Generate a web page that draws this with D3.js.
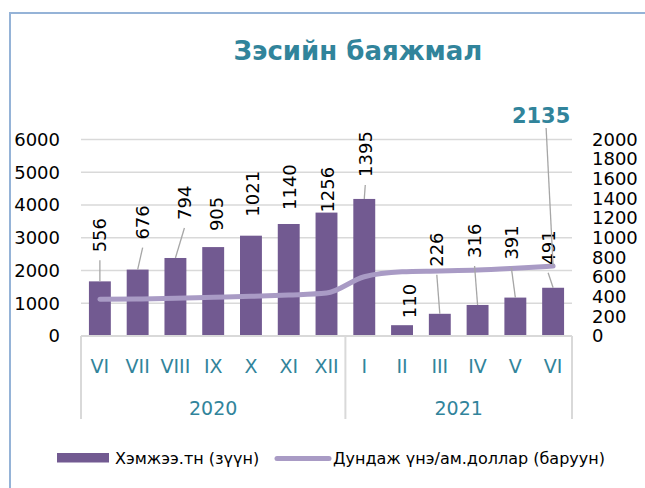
<!DOCTYPE html>
<html>
<head>
<meta charset="utf-8">
<script src="https://cdn.jsdelivr.net/npm/d3@7"></script>
<style>
    body { margin: 0; background: #fff; }
    svg { display: block; font-family: "DejaVu Sans", sans-serif; }
</style>
</head>
<body>
<div id="chart"></div>
<script>
// Data
const months = ['VI', 'VII', 'VIII', 'IX', 'X', 'XI', 'XII', 'I', 'II', 'III', 'IV', 'V', 'VI'];
const yearLabels = ['2020', '2021'];
const yearOfMonth = [0, 0, 0, 0, 0, 0, 0, 1, 1, 1, 1, 1, 1];
const volume = [556, 676, 794, 905, 1021, 1140, 1256, 1395, 110, 226, 316, 391, 491];
const price = [1120, 1130, 1150, 1180, 1210, 1250, 1310, 1810, 1960, 1985, 2015, 2070, 2135];
const leftTicks = [0, 1000, 2000, 3000, 4000, 5000, 6000];
const rightTicks = [0, 200, 400, 600, 800, 1000, 1200, 1400, 1600, 1800, 2000];
const legendLabels = ['Хэмжээ.тн (зүүн)', 'Дундаж үнэ/ам.доллар (баруун)'];
const chartTitle = 'Зэсийн баяжмал';

// Hand-placed label nudges (dx, gap above bar), like the original workbook
const labelNudge = [[0, 29], [5, 30], [9, 38], [3, 16], [2, 19], [1, 14], [1, 0], [1, 22],
                    [7, 7], [-3, 47], [-3, 47], [-4, 38], [-5, 23]];

const colors = {
    bar: '#725a91',
    line: '#a99bc5',
    teal: '#31849b',
    grid: '#d9d9d9',
    leader: '#a6a6a6',
    frame: '#95b3d7'
};

const width = 645, height = 488;
const plot = { left: 81, right: 572, top: 139.5, bottom: 336 };

const svg = d3.select('#chart')
    .append('svg')
    .attr('width', width)
    .attr('height', height);

// outer frame (cut off on right / bottom in the source)
svg.append('rect')
    .attr('x', 10).attr('y', 13)
    .attr('width', 700).attr('height', 600)
    .attr('fill', 'none')
    .attr('stroke', colors.frame)
    .attr('stroke-width', 2);

svg.append('text')
    .attr('x', 358)
    .attr('y', 60)
    .attr('text-anchor', 'middle')
    .attr('fill', colors.teal)
    .style('font-size', '26px')
    .style('font-weight', 'bold')
    .text(chartTitle);

const x = d3.scaleBand()
    .domain(d3.range(months.length))
    .range([plot.left, plot.right])
    .paddingInner(0.42)
    .paddingOuter(0.21);
const yLeft = d3.scaleLinear().domain([0, 6000]).range([plot.bottom, plot.top]);
const yRight = d3.scaleLinear().domain([0, 2000]).range([plot.bottom, plot.top]);
const cx = i => x(i) + x.bandwidth() / 2;

// gridlines
svg.append('g')
    .selectAll('line')
    .data(leftTicks.filter(d => d > 0))
    .join('line')
    .attr('x1', plot.left).attr('x2', plot.right)
    .attr('y1', d => yLeft(d)).attr('y2', d => yLeft(d))
    .attr('stroke', colors.grid)
    .attr('stroke-width', 1.3);

// left axis
svg.append('g')
    .attr('transform', 'translate(60,0)')
    .call(d3.axisLeft(yLeft).tickValues(leftTicks).tickFormat(d3.format('d')).tickSize(0).tickPadding(0))
    .call(g => g.select('.domain').remove())
    .attr('font-family', null)
    .selectAll('text')
    .style('font-size', '18px')
    .attr('fill', '#000');

// right axis
svg.append('g')
    .attr('transform', 'translate(592,0)')
    .call(d3.axisRight(yRight).tickValues(rightTicks).tickFormat(d3.format('d')).tickSize(0).tickPadding(0))
    .call(g => g.select('.domain').remove())
    .attr('font-family', null)
    .selectAll('text')
    .style('font-size', '18px')
    .attr('fill', '#000');

// bars
svg.append('g')
    .selectAll('rect')
    .data(volume)
    .join('rect')
    .attr('x', (d, i) => x(i))
    .attr('width', x.bandwidth())
    .attr('y', d => yRight(d))
    .attr('height', d => plot.bottom - yRight(d))
    .attr('fill', colors.bar);

// category axis with year groups
const splitX = (x(6) + x.bandwidth() + x(7)) / 2;
const axisG = svg.append('g');
axisG.append('line')
    .attr('x1', plot.left).attr('x2', plot.right)
    .attr('y1', plot.bottom).attr('y2', plot.bottom)
    .attr('stroke', colors.grid).attr('stroke-width', 2);
axisG.selectAll('.sep')
    .data([plot.left, splitX, plot.right])
    .join('line')
    .attr('class', 'sep')
    .attr('x1', d => d).attr('x2', d => d)
    .attr('y1', plot.bottom).attr('y2', 419)
    .attr('stroke', colors.grid).attr('stroke-width', 2);

axisG.selectAll('.month')
    .data(months)
    .join('text')
    .attr('class', 'month')
    .attr('x', (d, i) => cx(i))
    .attr('y', 373)
    .attr('text-anchor', 'middle')
    .attr('fill', colors.teal)
    .style('font-size', '19px')
    .text(d => d);

axisG.selectAll('.year')
    .data(yearLabels)
    .join('text')
    .attr('class', 'year')
    .attr('x', (d, k) => {
        const a = k === 0 ? plot.left : splitX;
        const b = k === yearLabels.length - 1 ? plot.right : splitX;
        return (a + b) / 2;
    })
    .attr('y', 415)
    .attr('text-anchor', 'middle')
    .attr('fill', colors.teal)
    .style('font-size', '19px')
    .text(d => d);

// price line
const line = d3.line()
    .x((d, i) => cx(i))
    .y(d => yLeft(d))
    .curve(d3.curveMonotoneX);

svg.append('path')
    .datum(price)
    .attr('d', line)
    .attr('fill', 'none')
    .attr('stroke', colors.line)
    .attr('stroke-width', 5)
    .attr('stroke-linecap', 'round')
    .attr('stroke-linejoin', 'round');

// bar labels + leader lines
const labels = svg.append('g');
volume.forEach((v, i) => {
    const [dx, gap] = labelNudge[i];
    const top = yRight(v);
    const lx = cx(i) + dx;
    const ly = top - gap;
    if (gap > 20) {
        labels.append('line')
            .attr('x1', lx).attr('y1', ly + 8)
            .attr('x2', cx(i)).attr('y2', top)
            .attr('stroke', colors.leader)
            .attr('stroke-width', 1.3);
    }
    labels.append('text')
        .attr('transform', `translate(${lx},${ly}) rotate(-90)`)
        .attr('dy', '0.36em')
        .attr('fill', '#000')
        .style('font-size', '18px')
        .text(v);
});

// last price callout
const last = price.length - 1;
const px = cx(last), py = yLeft(price[last]);
svg.append('line')
    .attr('x1', px - 7).attr('y1', py - 138)
    .attr('x2', px).attr('y2', py)
    .attr('stroke', colors.leader)
    .attr('stroke-width', 1.3);
svg.append('text')
    .attr('x', px - 12)
    .attr('y', py - 143)
    .attr('text-anchor', 'middle')
    .attr('fill', colors.teal)
    .style('font-size', '21px')
    .style('font-weight', 'bold')
    .text(price[last]);

// legend
const legend = svg.append('g');
legend.append('rect')
    .attr('x', 57).attr('y', 453)
    .attr('width', 52).attr('height', 9.5)
    .attr('fill', colors.bar);
legend.append('text')
    .attr('x', 115).attr('y', 464)
    .style('font-size', '16px')
    .text(legendLabels[0]);
legend.append('line')
    .attr('x1', 277).attr('x2', 329)
    .attr('y1', 458.5).attr('y2', 458.5)
    .attr('stroke', colors.line)
    .attr('stroke-width', 5)
    .attr('stroke-linecap', 'round');
legend.append('text')
    .attr('x', 333).attr('y', 464)
    .style('font-size', '16px')
    .text(legendLabels[1]);
</script>
</body>
</html>
